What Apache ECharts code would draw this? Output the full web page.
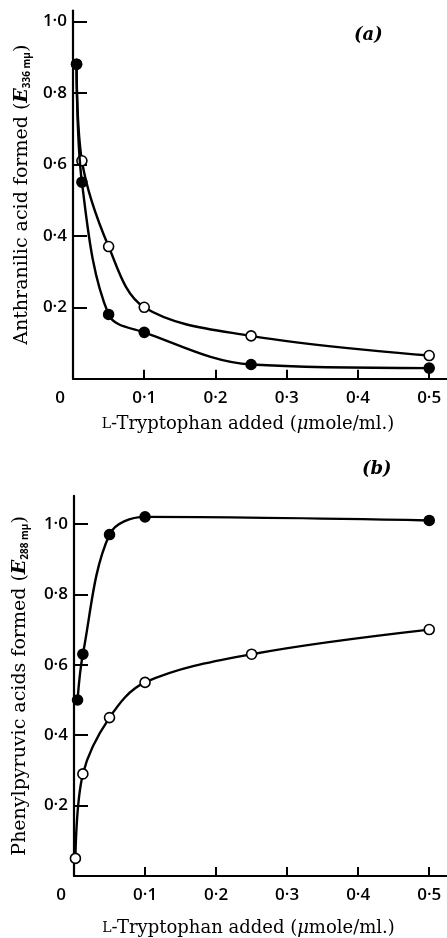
<!DOCTYPE html>
<html><head><meta charset="utf-8">
<script src="https://cdn.jsdelivr.net/npm/echarts@6/dist/echarts.min.js"></script>
<style>html,body{margin:0;padding:0;background:#fff}#c{width:447px;height:938px}</style>
</head><body><div id="c"></div>
<script>
// Panel (a): anthranilic acid formed
const aFilledX = [0.005, 0.0125, 0.05, 0.1, 0.25, 0.5];
const aFilledY = [0.88, 0.55, 0.18, 0.13, 0.04, 0.03];
const aOpenX = [0.005, 0.0125, 0.05, 0.1, 0.25, 0.5];
const aOpenY = [0.88, 0.61, 0.37, 0.20, 0.12, 0.065];
// Panel (b): phenylpyruvic acids formed
const bFilledX = [0.005, 0.0125, 0.05, 0.1, 0.5];
const bFilledY = [0.50, 0.63, 0.97, 1.02, 1.01];
const bOpenX = [0.002, 0.0125, 0.05, 0.1, 0.25, 0.5];
const bOpenY = [0.05, 0.29, 0.45, 0.55, 0.63, 0.70];
const xTicks = [0, 0.1, 0.2, 0.3, 0.4, 0.5];
const yTicks = [0.2, 0.4, 0.6, 0.8, 1.0];

const pair = (xs, ys) => xs.map((x, i) => [x, ys[i]]);
const fmt = v => Number(v).toFixed(1).replace('.', '·');
const serif = '"DejaVu Serif","Liberation Serif",serif';
const sans = '"Open Sans","Liberation Sans",sans-serif';

function xAxisCfg(gi, gap) {
  return {
    type: 'value', gridIndex: gi, min: 0, max: 0.525,
    axisLine: {lineStyle: {color: '#000', width: 2.2}},
    axisTick: {inside: true, length: 9, lineStyle: {color: '#000', width: 2}, customValues: xTicks.slice(1)},
    axisLabel: {customValues: xTicks, margin: 11, color: '#000', fontFamily: sans, fontWeight: 600, fontSize: 17,
      formatter: v => v === 0 ? '{z|0}' : fmt(v),
      rich: {z: {fontFamily: sans, fontWeight: 600, fontSize: 17, color: '#000', padding: [0, 26, 0, 0]}}},
    splitLine: {show: false},
    name: '{sc|L}-Tryptophan added ({g|μ}mole/ml.)', nameLocation: 'middle', nameGap: gap,
    nameTextStyle: {fontFamily: serif, fontSize: 18, color: '#000', padding: [0, 24, 0, 0],
      rich: {sc: {fontFamily: serif, fontSize: 14, color: '#000'}, g: {fontFamily: serif, fontStyle: 'italic', fontSize: 18, color: '#000'}}}
  };
}
function yAxisCfg(gi, max, nm, sub, gap) {
  return {
    type: 'value', gridIndex: gi, min: 0, max: max,
    axisLine: {lineStyle: {color: '#000', width: 2.2}},
    axisTick: {inside: true, length: 14, lineStyle: {color: '#000', width: 2}, customValues: yTicks},
    axisLabel: {customValues: yTicks, margin: 6, color: '#000', fontFamily: sans, fontWeight: 600, fontSize: 17, formatter: fmt},
    splitLine: {show: false},
    name: nm + ' ({e|E}{s|' + sub + '})', nameLocation: 'middle', nameGap: gap,
    nameTextStyle: {fontFamily: serif, fontSize: 19, color: '#000',
      rich: {e: {fontFamily: serif, fontStyle: 'italic', fontWeight: 'bold', fontSize: 19, color: '#000'},
             s: {fontFamily: sans, fontWeight: 'bold', fontSize: 10, color: '#000', verticalAlign: 'bottom', padding: [9, 0, 0, 0]}}}
  };
}
function ser(xi, data, filled) {
  return {
    type: 'line', xAxisIndex: xi, yAxisIndex: xi, data: data, smooth: 0.35,
    symbol: 'circle', symbolSize: 10, z: filled ? 3 : 2,
    lineStyle: {color: '#000', width: 2.4},
    itemStyle: {color: filled ? '#000' : '#fff', borderColor: '#000', borderWidth: 1.6},
    emphasis: {disabled: true}
  };
}

const chart = echarts.init(document.getElementById('c'), null, {renderer: 'canvas'});
chart.setOption({
  animation: false,
  backgroundColor: '#fff',
  grid: [
    {left: 73, width: 374, top: 10.6, height: 368.2},
    {left: 74, width: 373, top: 495.8, height: 381.2}
  ],
  xAxis: [xAxisCfg(0, 37), xAxisCfg(1, 43)],
  yAxis: [
    yAxisCfg(0, 1.03, 'Anthranilic acid formed', '336 mμ', 36),
    yAxisCfg(1, 1.08, 'Phenylpyruvic acids formed', '288 mμ', 44)
  ],
  graphic: [
    {type: 'text', left: 354, top: 26, style: {text: '(a)', font: 'italic bold 18px ' + serif, fill: '#000'}},
    {type: 'text', left: 362, top: 460, style: {text: '(b)', font: 'italic bold 18px ' + serif, fill: '#000'}}
  ],
  series: [
    ser(0, pair(aOpenX, aOpenY), false),
    ser(0, pair(aFilledX, aFilledY), true),
    ser(1, pair(bOpenX, bOpenY), false),
    ser(1, pair(bFilledX, bFilledY), true)
  ]
});
</script></body></html>
